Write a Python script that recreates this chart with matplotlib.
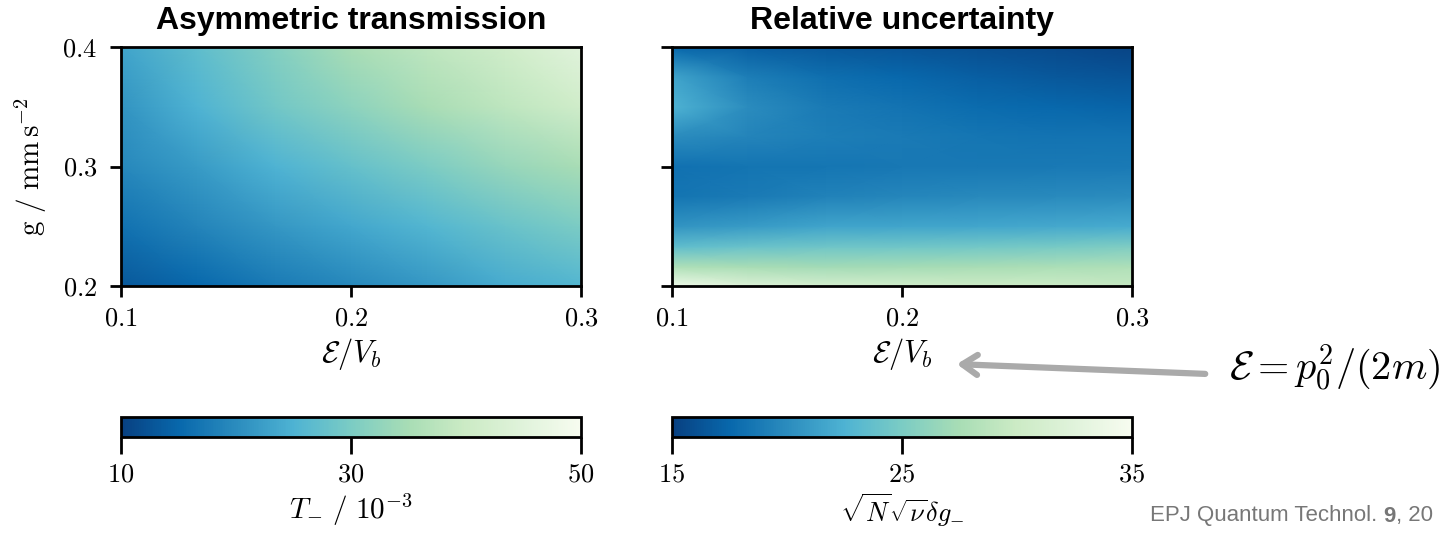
import numpy as np
import matplotlib
matplotlib.use('Agg')
import matplotlib.pyplot as plt

plt.rcParams['mathtext.fontset'] = 'cm'
plt.rcParams['font.family'] = 'Liberation Sans'

# energy / barrier axis values and gravity axis values
E_left = [0.1, 0.133, 0.167, 0.2, 0.233, 0.267, 0.3]
g_left = [0.2, 0.25, 0.3, 0.35, 0.4]
# asymmetric transmission T- (units 1e-3), rows = g from bottom
T_minus = [
    [13, 15, 17.5, 19.5, 21.5, 24, 25.5],
    [16.5, 19, 21.5, 23.5, 25.5, 28, 30],
    [19.5, 22, 25, 27.5, 30, 33, 35],
    [21, 25, 29, 32, 35, 38, 41],
    [23, 27, 31, 35, 38, 41, 45],
]

E_right = [0.1, 0.133, 0.167, 0.2, 0.233, 0.267, 0.3]
g_right = [0.2, 0.216, 0.233, 0.25, 0.275, 0.3, 0.325, 0.35, 0.375, 0.4]
# relative uncertainty sqrt(N) sqrt(nu) dg-
rel_unc = [
    [34, 32, 31, 30.5, 30, 30, 29.5],
    [28, 27.5, 27.2, 27.3, 27.5, 27.8, 28],
    [23.5, 24, 24.3, 24.4, 24.6, 24.8, 25.2],
    [20.5, 21, 21.5, 21.6, 21.7, 21.8, 22],
    [18.4, 18.8, 19.3, 19.6, 19.8, 19.9, 20],
    [18.2, 18.4, 18.5, 18.6, 18.6, 18.7, 18.8],
    [20, 19.5, 19, 18.8, 18.5, 18.3, 18.3],
    [22.5, 20, 18.8, 18.3, 17.8, 17.5, 17.3],
    [21.5, 19, 18, 17.5, 17, 16.5, 16.3],
    [17.5, 17, 16.5, 16.3, 16, 15.7, 15.3],
]

xticks = [0.1, 0.2, 0.3]
yticks = [0.2, 0.3, 0.4]
cb_left_ticks = [10, 30, 50]
cb_right_ticks = [15, 25, 35]

W, H = 1454, 534
fig = plt.figure(figsize=(W / 100, H / 100), dpi=100)

def px(x0, y0, x1, y1):
    return [x0 / W, 1 - y1 / H, (x1 - x0) / W, (y1 - y0) / H]

ax1 = fig.add_axes(px(121, 47, 581, 286))
ax2 = fig.add_axes(px(672, 47, 1132, 286))
cax1 = fig.add_axes(px(121, 417, 581, 437))
cax2 = fig.add_axes(px(672, 417, 1132, 437))

m1 = ax1.pcolormesh(E_left, g_left, np.array(T_minus), shading='gouraud',
                    cmap='GnBu_r', vmin=10, vmax=50)
m2 = ax2.pcolormesh(E_right, g_right, np.array(rel_unc), shading='gouraud',
                    cmap='GnBu_r', vmin=15, vmax=35)

for ax in (ax1, ax2):
    ax.set_xlim(0.1, 0.3)
    ax.set_ylim(0.2, 0.4)
    ax.set_xticks(xticks)
    ax.set_xticklabels(['$%.1f$' % t for t in xticks])
    ax.set_yticks(yticks)
    ax.tick_params(direction='out', length=8, width=2, labelsize=19)
    ax.tick_params(axis='x', pad=7)
    ax.tick_params(axis='y', pad=9)
    for s in ax.spines.values():
        s.set_linewidth(2)
    ax.set_xlabel(r'$\mathcal{E}/V_b$', fontsize=22, labelpad=4)

ax1.set_yticklabels(['$%.1f$' % t for t in yticks])
ax2.set_yticklabels([])
ax1.set_ylabel(r'$\mathrm{g\ /\ mm\,s^{-2}}$', fontsize=21, labelpad=10)

ax1.set_title('Asymmetric transmission', fontsize=23, fontweight='bold', pad=13)
ax2.set_title('Relative uncertainty', fontsize=23, fontweight='bold', pad=13)

cb1 = fig.colorbar(m1, cax=cax1, orientation='horizontal', ticks=cb_left_ticks)
cb2 = fig.colorbar(m2, cax=cax2, orientation='horizontal', ticks=cb_right_ticks)
cb1.set_ticklabels(['$%d$' % t for t in cb_left_ticks])
cb2.set_ticklabels(['$%d$' % t for t in cb_right_ticks])
cb1.set_label(r'$T_{-}\ /\ 10^{-3}$', fontsize=21, labelpad=4)
cb2.set_label(r'$\sqrt{N}\sqrt{\nu}\delta g_{-}$', fontsize=19, labelpad=4)
for cb in (cb1, cb2):
    cb.outline.set_linewidth(2)
    cb.ax.tick_params(direction='out', length=12, width=2, labelsize=19, pad=6)

# annotation arrow pointing at the energy label
fig.text(1229 / W, 1 - 368 / H, r'$\mathcal{E} = p_0^2/(2m)$', fontsize=29,
         ha='left', va='center')
fig.patches.append(matplotlib.patches.FancyArrowPatch(
    (1208 / W, 1 - 374 / H), (954 / W, 1 - 364 / H), transform=fig.transFigure,
    arrowstyle='->,head_length=0.9,head_width=0.6', color='#aaaaaa', lw=4.5,
    mutation_scale=12))

# journal footer
fig.canvas.draw()
r = fig.canvas.get_renderer()
fc = '#777777'
t = fig.text(1150 / W, 1 - 516 / H, 'EPJ Quantum Technol. ', fontsize=16,
             color=fc, va='center')
bb = t.get_window_extent(r)
t2 = fig.text(bb.x1 / W, 1 - 516 / H, '9', fontsize=16, color=fc,
              fontweight='bold', va='center')
bb2 = t2.get_window_extent(r)
fig.text(bb2.x1 / W, 1 - 516 / H, ', 20', fontsize=16, color=fc, va='center')

fig.savefig('out.png', dpi=100)
